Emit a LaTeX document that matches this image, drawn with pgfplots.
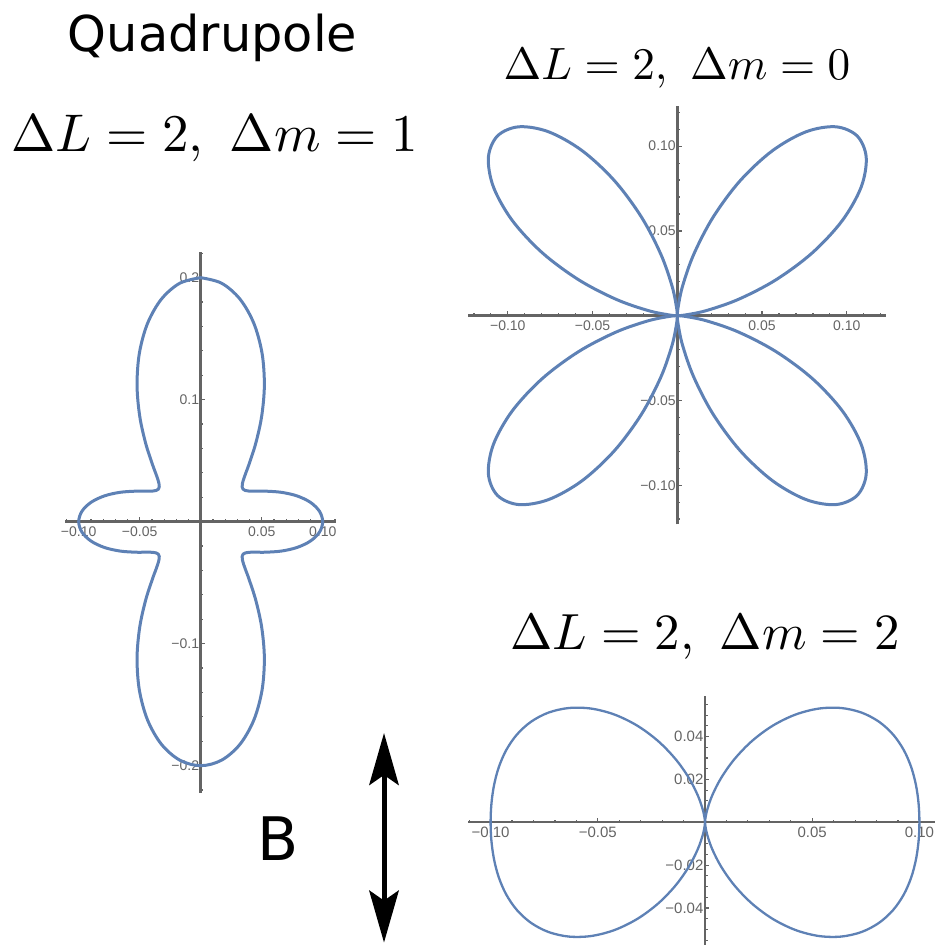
\documentclass[border=0pt]{standalone}
\usepackage{graphicx}
\usepackage{fontspec}
\usepackage{pgfplots}
\pgfplotsset{compat=1.18}
\usetikzlibrary{arrows.meta}

\newfontfamily\dejavu{DejaVu Sans}
\newfontfamily\ticksans{Liberation Sans}

\definecolor{mblue}{HTML}{5E81B5}
\definecolor{axgray}{HTML}{646464}

\pgfplotsset{
  polarax/.style={
    axis lines=middle,
    axis line style={draw=axgray, line width=1.3pt, -},
    enlargelimits=false,
    scaled ticks=false,
    tick style={draw=axgray, line width=0.6pt},
    major tick length=2.2pt,
    minor tick length=1.3pt,
    tick align=inside,
    ticklabel style={font=\ticksans\fontsize{7}{8}\selectfont, text=axgray},
    xticklabel style={anchor=north, inner sep=2.2pt},
    yticklabel style={anchor=east, inner sep=0.6pt},
    clip=false,
    anchor=origin,
  },
  lobe/.style={draw=mblue, line width=1.5pt, smooth, tension=0.55, mark=none, line join=round},
}

\begin{document}
\begin{tikzpicture}
\useasboundingbox (0,0) rectangle (467pt,472.5pt);

% ---------- Delta m = 1 ----------
\begin{axis}[polarax,
  at={(100.35pt,211.65pt)},
  x=610pt, y=610pt,
  xmin=-0.111, xmax=0.111, ymin=-0.222, ymax=0.221,
  xtick={-0.1,-0.05,0.05,0.1},
  xticklabels={−0.10,−0.05,0.05,0.10},
  minor xtick={-0.11,-0.09,-0.08,-0.07,-0.06,-0.04,-0.03,-0.02,-0.01,0.01,0.02,0.03,0.04,0.06,0.07,0.08,0.09,0.11},
  ytick={-0.2,-0.1,0.1,0.2},
  yticklabels={−0.2,−0.1,0.1,0.2},
  minor ytick={-0.22,-0.18,-0.16,-0.14,-0.12,-0.08,-0.06,-0.04,-0.02,0.02,0.04,0.06,0.08,0.12,0.14,0.16,0.18,0.22},
]
\addplot[lobe] coordinates {
(0,0.2) (0.017103,0.195476) (0.032175,0.182475) (0.04356,0.162567) (0.050271,0.138118) (0.052177,0.111893) (0.05,0.086603) (0.045197,0.064547) (0.039658,0.047262) (0.037236,0.040637) (0.035355,0.035355) (0.034211,0.031349) (0.033961,0.028497) (0.034715,0.026638) (0.036532,0.02558) (0.039411,0.025108) (0.043301,0.025) (0.048095,0.025037) (0.053634,0.02501) (0.066135,0.024071) (0.078915,0.021145) (0.089932,0.015858) (0.097371,0.008519) (0.1,0)
(0.097371,-0.008519) (0.089932,-0.015858) (0.078915,-0.021145) (0.066135,-0.024071) (0.053634,-0.02501) (0.048095,-0.025037) (0.043301,-0.025) (0.039411,-0.025108) (0.036532,-0.02558) (0.034715,-0.026638) (0.033961,-0.028497) (0.034211,-0.031349) (0.035355,-0.035355) (0.037236,-0.040637) (0.039658,-0.047262) (0.045197,-0.064547) (0.05,-0.086603) (0.052177,-0.111893) (0.050271,-0.138118) (0.04356,-0.162567) (0.032175,-0.182475) (0.017103,-0.195476) (0,-0.2)
(-0.017103,-0.195476) (-0.032175,-0.182475) (-0.04356,-0.162567) (-0.050271,-0.138118) (-0.052177,-0.111893) (-0.05,-0.086603) (-0.045197,-0.064547) (-0.039658,-0.047262) (-0.037236,-0.040637) (-0.035355,-0.035355) (-0.034211,-0.031349) (-0.033961,-0.028497) (-0.034715,-0.026638) (-0.036532,-0.02558) (-0.039411,-0.025108) (-0.043301,-0.025) (-0.048095,-0.025037) (-0.053634,-0.02501) (-0.066135,-0.024071) (-0.078915,-0.021145) (-0.089932,-0.015858) (-0.097371,-0.008519) (-0.1,0)
(-0.097371,0.008519) (-0.089932,0.015858) (-0.078915,0.021145) (-0.066135,0.024071) (-0.053634,0.02501) (-0.048095,0.025037) (-0.043301,0.025) (-0.039411,0.025108) (-0.036532,0.02558) (-0.034715,0.026638) (-0.033961,0.028497) (-0.034211,0.031349) (-0.035355,0.035355) (-0.037236,0.040637) (-0.039658,0.047262) (-0.045197,0.064547) (-0.05,0.086603) (-0.052177,0.111893) (-0.050271,0.138118) (-0.04356,0.162567) (-0.032175,0.182475) (-0.017103,0.195476) (0,0.2)
};
\end{axis}

% ---------- Delta m = 0 ----------
\begin{axis}[polarax,
  at={(338.65pt,314.65pt)},
  x=847.5pt, y=847.5pt,
  xmin=-0.1233, xmax=0.1231, ymin=-0.1231, ymax=0.1237,
  xtick={-0.1,-0.05,0.05,0.1},
  xticklabels={−0.10,−0.05,0.05,0.10},
  ytick={-0.1,-0.05,0.05,0.1},
  yticklabels={−0.10,−0.05,0.05,0.10},
  minor xtick={-0.12,-0.11,-0.09,-0.08,-0.07,-0.06,-0.04,-0.03,-0.02,-0.01,0.01,0.02,0.03,0.04,0.06,0.07,0.08,0.09,0.11,0.12},
  minor ytick={-0.12,-0.11,-0.09,-0.08,-0.07,-0.06,-0.04,-0.03,-0.02,-0.01,0.01,0.02,0.03,0.04,0.06,0.07,0.08,0.09,0.11,0.12},
]
\addplot[lobe] coordinates {
(0,0) (0.000394,0.004506) (0.003047,0.01728) (0.009706,0.036222) (0.021197,0.058238) (0.037201,0.079777) (0.05625,0.097428) (0.075972,0.108499) (0.093511,0.111441) (0.106066,0.106066) (0.111441,0.093511) (0.108499,0.075972) (0.097428,0.05625) (0.079777,0.037201) (0.058238,0.021197) (0.036222,0.009706) (0.01728,0.003047) (0.004506,0.000394) (0,0)
};
\addplot[lobe] coordinates {
(0,0) (0.000394,-0.004506) (0.003047,-0.01728) (0.009706,-0.036222) (0.021197,-0.058238) (0.037201,-0.079777) (0.05625,-0.097428) (0.075972,-0.108499) (0.093511,-0.111441) (0.106066,-0.106066) (0.111441,-0.093511) (0.108499,-0.075972) (0.097428,-0.05625) (0.079777,-0.037201) (0.058238,-0.021197) (0.036222,-0.009706) (0.01728,-0.003047) (0.004506,-0.000394) (0,0)
};
\addplot[lobe] coordinates {
(0,0) (-0.000394,-0.004506) (-0.003047,-0.01728) (-0.009706,-0.036222) (-0.021197,-0.058238) (-0.037201,-0.079777) (-0.05625,-0.097428) (-0.075972,-0.108499) (-0.093511,-0.111441) (-0.106066,-0.106066) (-0.111441,-0.093511) (-0.108499,-0.075972) (-0.097428,-0.05625) (-0.079777,-0.037201) (-0.058238,-0.021197) (-0.036222,-0.009706) (-0.01728,-0.003047) (-0.004506,-0.000394) (0,0)
};
\addplot[lobe] coordinates {
(0,0) (-0.000394,0.004506) (-0.003047,0.01728) (-0.009706,0.036222) (-0.021197,0.058238) (-0.037201,0.079777) (-0.05625,0.097428) (-0.075972,0.108499) (-0.093511,0.111441) (-0.106066,0.106066) (-0.111441,0.093511) (-0.108499,0.075972) (-0.097428,0.05625) (-0.079777,0.037201) (-0.058238,0.021197) (-0.036222,0.009706) (-0.01728,0.003047) (-0.004506,0.000394) (0,0)
};
\end{axis}

% ---------- Delta m = 2 ----------
\begin{axis}[polarax,
  at={(352.5pt,61.35pt)},
  x=1072pt, y=1072pt,
  xmin=-0.1104, xmax=0.115, ymin=-0.06, ymax=0.059,
  axis line style={line width=1.15pt},
  ticklabel style={font=\ticksans\fontsize{7.5}{8.5}\selectfont},
  xtick={-0.1,-0.05,0.05,0.1},
  xticklabels={−0.10,−0.05,0.05,0.10},
  minor xtick={-0.11,-0.09,-0.08,-0.07,-0.06,-0.04,-0.03,-0.02,-0.01,0.01,0.02,0.03,0.04,0.06,0.07,0.08,0.09,0.11},
  ytick={-0.04,-0.02,0.02,0.04},
  yticklabels={−0.04,−0.02,0.02,0.04},
  minor ytick={-0.055,-0.05,-0.045,-0.035,-0.03,-0.025,-0.015,-0.01,-0.005,0.005,0.01,0.015,0.025,0.03,0.035,0.045,0.05,0.055},
]
\addplot[lobe, line width=1.15pt] coordinates {
(0,0) (0.000132,0.001508) (0.001031,0.005849) (0.003351,0.012508) (0.007534,0.0207) (0.013748,0.029482) (0.021875,0.037889) (0.031532,0.045033) (0.042144,0.050225) (0.053033,0.053033) (0.063526,0.053305) (0.073049,0.05115) (0.08119,0.046875) (0.087739,0.040914) (0.092684,0.033734) (0.096159,0.025766) (0.098391,0.017349) (0.099613,0.008715) (0.1,0)
(0.099613,-0.008715) (0.098391,-0.017349) (0.096159,-0.025766) (0.092684,-0.033734) (0.087739,-0.040914) (0.08119,-0.046875) (0.073049,-0.05115) (0.063526,-0.053305) (0.053033,-0.053033) (0.042144,-0.050225) (0.031532,-0.045033) (0.021875,-0.037889) (0.013748,-0.029482) (0.007534,-0.0207) (0.003351,-0.012508) (0.001031,-0.005849) (0.000132,-0.001508) (0,0)
};
\addplot[lobe, line width=1.15pt] coordinates {
(0,0) (-0.000132,0.001508) (-0.001031,0.005849) (-0.003351,0.012508) (-0.007534,0.0207) (-0.013748,0.029482) (-0.021875,0.037889) (-0.031532,0.045033) (-0.042144,0.050225) (-0.053033,0.053033) (-0.063526,0.053305) (-0.073049,0.05115) (-0.08119,0.046875) (-0.087739,0.040914) (-0.092684,0.033734) (-0.096159,0.025766) (-0.098391,0.017349) (-0.099613,0.008715) (-0.1,0)
(-0.099613,-0.008715) (-0.098391,-0.017349) (-0.096159,-0.025766) (-0.092684,-0.033734) (-0.087739,-0.040914) (-0.08119,-0.046875) (-0.073049,-0.05115) (-0.063526,-0.053305) (-0.053033,-0.053033) (-0.042144,-0.050225) (-0.031532,-0.045033) (-0.021875,-0.037889) (-0.013748,-0.029482) (-0.007534,-0.0207) (-0.003351,-0.012508) (-0.001031,-0.005849) (-0.000132,-0.001508) (0,0)
};
\end{axis}

% ---------- titles and field direction ----------
\node[font=\dejavu\fontsize{24.7}{28}\selectfont, anchor=base, inner sep=0pt] at (106.25pt,446.5pt) {Quadrupole};
\node[anchor=base, inner sep=0pt] at (107.25pt,396.65pt) {\scalebox{2.65}{$\Delta L=2,\ \Delta m=1$}};
\node[anchor=base, inner sep=0pt] at (338.5pt,432.5pt) {\scalebox{2.26}{$\Delta L=2,\ \Delta m=0$}};
\node[anchor=base, inner sep=0pt] at (352.5pt,147.5pt) {\scalebox{2.54}{$\Delta L=2,\ \Delta m=2$}};
\node[font=\dejavu\fontsize{30}{34}\selectfont, anchor=base, inner sep=0pt] at (139pt,42.15pt) {B};
\draw[line width=2.5pt,
  {Stealth[length=26pt,width=14.7pt,inset=5pt]}-{Stealth[length=26pt,width=14.7pt,inset=5pt]}]
  (192pt,106pt) -- (192pt,1.2pt);
\end{tikzpicture}
\end{document}
